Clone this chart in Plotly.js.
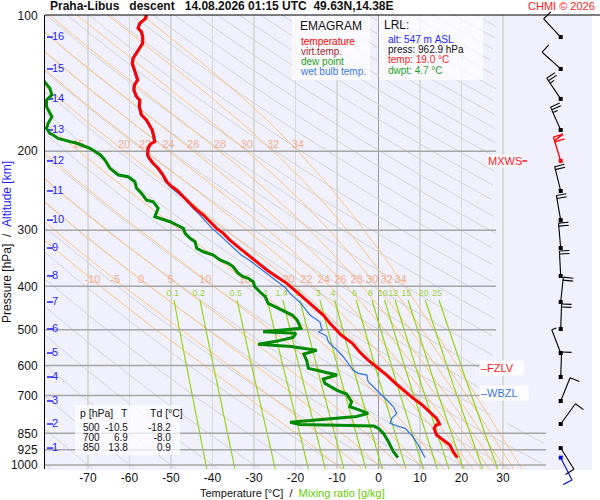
<!DOCTYPE html>
<html>
<head>
<meta charset="utf-8">
<script src="https://cdn.plot.ly/plotly-3.0.1.min.js"></script>
<style>
html,body{margin:0;padding:0;background:#ffffff;}
#chart{width:600px;height:500px;}
</style>
</head>
<body>
<div id="chart"></div>
<script>
// ================= sounding data =================
const tempP = [99.5,101.2,103.8,106.5,108.4,111.2,115.0,117.0,121.1,124.2,127.5,130.8,135.3,138.8,142.5,146.2,151.3,153.9,159.2,166.2,170.5,174.9,179.4,185.7,190.5,192.8,197.1,204.0,207.5,212.8,218.4,226.0,233.9,240.0,244.1,252.6,259.2,268.1,277.5,287.2,297.1,304.9,315.5,329.2,340.7,352.6,367.9,380.8,393.9,414.6,440.3,463.5,483.6,513.5,535.8,559.5,583.8,604.2,630.5,657.9,686.9,710.5,735.4,770.1,787.3,810.6,814.8,828.7,857.7,879.9,902.8,934.5,962.9];
const tempT = [-55.9,-56.1,-57.5,-57.9,-57.1,-56.8,-56.8,-57.3,-58.4,-59.1,-59.3,-58.9,-58.4,-58.0,-58.8,-58.9,-58.3,-57.5,-57.6,-57.1,-55.9,-55.1,-54.5,-54.1,-53.9,-54.9,-55.5,-55.6,-55.2,-54.3,-53.1,-51.9,-51.0,-49.8,-48.6,-47.0,-45.8,-44.2,-42.2,-40.6,-39.0,-37.4,-35.8,-33.4,-31.4,-29.3,-26.9,-24.5,-22.1,-19.3,-16.1,-13.3,-11.7,-9.0,-6.3,-4.6,-2.5,-0.4,2.0,4.1,6.4,8.4,10.6,12.8,14.0,14.7,13.9,13.4,14.0,15.6,17.2,18.0,19.0];

const dewP = [137.4,140.1,144.9,149.9,153.9,159.2,167.6,173.4,177.9,182.5,184.1,187.3,190.5,192.1,197.1,204.0,209.3,218.4,226.0,228.0,233.9,242.0,248.3,257.0,259.2,268.1,279.9,282.2,287.2,292.1,297.1,304.9,312.7,318.3,329.2,335.0,340.7,349.5,355.5,361.8,374.2,380.8,384.0,390.7,400.9,411.3,421.9,436.5,447.8,455.7,463.5,475.5,496.2,504.9,509.1,520.1,530.4,538.3,544.8,555.4,566.1,585.2,609.2,617.7,630.5,643.5,657.9,680.9,695.0,722.9,741.8,754.5,767.4,780.0,803.5,812.7,819.0,828.7,850.3,887.8,934.5,962.9];
const dewT = [-82.0,-80.5,-79.2,-78.7,-80.0,-80.0,-78.7,-79.6,-80.0,-79.2,-78.4,-77.2,-74.3,-72.7,-69.5,-67.0,-65.9,-64.7,-62.7,-60.3,-58.7,-58.3,-57.1,-55.9,-54.3,-53.1,-53.9,-52.7,-50.2,-48.6,-47.0,-46.6,-45.4,-44.2,-43.8,-42.2,-39.8,-38.2,-36.2,-35.0,-33.8,-32.6,-31.4,-30.2,-29.8,-28.6,-27.3,-26.6,-24.1,-22.1,-20.8,-19.6,-18.7,-27.8,-19.9,-20.6,-24.7,-29.0,-21.1,-14.9,-18.0,-17.3,-16.9,-14.1,-10.0,-13.3,-12.9,-10.1,-7.7,-6.5,-6.9,-4.5,-2.5,-5.3,-21.3,-18.9,-1.1,0.0,1.2,2.4,3.6,4.7];

const wbP = [99.5,101.2,103.8,106.5,108.4,111.2,115.0,117.0,121.1,124.2,127.5,130.8,135.3,138.8,142.5,146.2,151.3,153.9,159.2,166.2,170.5,174.9,179.4,185.7,190.5,192.8,197.1,204.0,207.5,212.8,218.4,226.0,233.9,240.0,252.6,268.1,277.5,287.2,297.1,304.9,315.5,329.2,340.7,349.5,364.8,384.0,402.5,414.6,436.5,463.5,480.4,500.5,504.9,516.2,531.5,545.3,553.2,574.0,614.5,625.0,630.5,652.5,675.0,692.6,716.7,741.8,767.4,787.3,807.8,817.7,828.7,857.7,902.8,962.9];
const wbT = [-56.2,-56.4,-57.8,-58.2,-57.4,-57.1,-57.1,-57.6,-58.7,-59.4,-59.6,-59.2,-58.7,-58.3,-59.1,-59.2,-58.6,-57.8,-57.9,-57.4,-56.2,-55.4,-54.8,-54.4,-54.2,-55.2,-55.8,-55.9,-55.5,-54.6,-53.4,-52.2,-51.4,-50.2,-47.3,-44.7,-43.0,-41.6,-40.1,-38.7,-37.0,-34.8,-33.1,-31.2,-28.6,-25.3,-22.5,-21.3,-18.7,-16.5,-14.1,-13.6,-14.5,-12.5,-12.1,-10.9,-10.1,-8.5,-6.1,-4.9,-2.8,-2.5,-0.8,0.4,2.0,3.6,4.4,3.2,2.8,4.4,6.4,8.0,9.6,11.2];

// altitude marks [km] and the pressure where each one sits
const altKm = [1,2,3,4,5,6,7,8,9,10,11,12,13,14,15,16];
const altP = [916.9,810.4,720.2,636.8,563.2,497.8,433.5,379.3,328.7,284.8,245.3,210.3,179.4,153.0,131.2,111.4];

// winds at the altitude marks (direction deg, speed kt)
const windDir = [148,36,22,2,339,2,6,357,355,350,346,343,336,326,312,317];
const windKt = [10,10,10,10,5,20,20,20,20,20,20,60,25,25,10,10];
const sfcP = 962.9, sfcDir = 153, sfcKt = 10;

// special levels [hPa]
const mxwsP = 210.3, fzlvP = 607, wbzlP = 690;

// diagram families
const dryTheta = [-80,-70,-60,-50,-40,-30,-20,-10,0,10,20,30,40,50,60,70,80,90,100,110,120,130,140,150,160,170,180,190,200,210,220,230,240,250,260,270,280,290,300,310];
const moistThetaW = [-10,-5,0,5,10,15,20,22,24,26,28,30,32,34];
const moistLabelsTop = [15,20,22,24,26,28,30,32,34];
const moistLabelsLow = [-10,-5,0,5,10,15,20,22,24,26,28,30,32,34];
const mixRatio = [0.1,0.2,0.5,1,1.4,2,3,4,6,8,10,12,15,20,25];
const mixLabels = ['0.1','0.2','0.5','1','1.4','2','3','4','6','8','10','12','15','20','25'];

// axis ticks
const pTicks = [100,200,300,400,500,600,700,850,925,1000];
const tTicks = [-70,-60,-50,-40,-30,-20,-10,0,10,20,30];

// legend, station & table
const legendNames = ['temperature','virt.temp.','dew point','wet bulb temp.'];
const legendColors = ['#ff0000','#a52828','#1e9e1e','#3a78e0'];
const stAlt = 547, stP = 962.9, stT = 19.0, stTd = 4.7;
const tableP = [500,700,850];
const tableT = [-10.5,6.9,13.8];
const tableTd = [-18.2,-8.0,0.9];

// ================= geometry (pixels) =================
const FONT = 'Liberation Sans, Arial, Helvetica, sans-serif';
const G = {left:45, right:592, top:15, bottom:469, paperTop:8, paperBottom:490,
           x0C:378.5, pxPerC:4.15, y100:16, pxPerDecade:449};
const lg = y => 2 + (y - G.y100) / G.pxPerDecade;
const pAt = y => Math.pow(10, lg(y));
const cAt = x => (x - G.x0C) / G.pxPerC;
const px = x => (x - G.left) / (G.right - G.left);
const py = y => (G.paperBottom - y) / (G.paperBottom - G.paperTop);
const xRange = [cAt(G.left), cAt(G.right)];
const yRange = [lg(G.bottom), lg(G.top)];
const y2Range = [lg(G.paperBottom), lg(G.paperTop)];
const pTop = pAt(G.top), pBot = pAt(G.bottom);
const TMAX_UP = cAt(496), TMAX_LOW = cAt(546), P_SPLIT = 800;
const tMax = p => (p >= P_SPLIT ? TMAX_LOW : TMAX_UP);

function logGrid(p0, p1, n) { const a = []; for (let i = 0; i <= n; i++) a.push(p0 * Math.pow(p1 / p0, i / n)); return a; }
function addClipped(acc, Ts, Ps) {
  let on = false;
  for (let i = 0; i < Ts.length; i++) {
    if (Ts[i] <= tMax(Ps[i])) { acc.x.push(Ts[i]); acc.y.push(Ps[i]); on = true; }
    else if (on) { acc.x.push(null); acc.y.push(null); on = false; }
  }
  acc.x.push(null); acc.y.push(null);
}
function interp(Ps, Ts, p) {
  for (let i = 1; i < Ps.length; i++) {
    const a = Ps[i - 1], b = Ps[i];
    if ((p - a) * (p - b) <= 0) { const f = Math.log(p / a) / Math.log(b / a); return Ts[i - 1] + f * (Ts[i] - Ts[i - 1]); }
  }
  return null;
}

// dry adiabats
const gridP = logGrid(pBot, pTop, 160);
const dry = {x: [], y: []};
dryTheta.forEach(th => {
  addClipped(dry, gridP.map(p => (th + 273.15) * Math.pow(p / 1000, 0.2857) - 273.15), gridP);
});

// pseudo-adiabats
function dTdlnp(T, p) {
  const e = 6.112 * Math.exp(17.67 * (T - 273.15) / (T - 273.15 + 243.5));
  const rs = 0.622 * e / (p - e);
  return (287.04 * T + 2.501e6 * rs) / (1005.7 + 2.501e6 * 2.501e6 * rs * 0.622 / (287.04 * T * T));
}
function rk(T, p0, p1) {
  const h = Math.log(p1 / p0), l0 = Math.log(p0);
  const f = (t, l) => dTdlnp(t, Math.exp(l));
  const k1 = f(T, l0), k2 = f(T + h / 2 * k1, l0 + h / 2), k3 = f(T + h / 2 * k2, l0 + h / 2), k4 = f(T + h * k3, l0 + h);
  return T + h / 6 * (k1 + 2 * k2 + 2 * k3 + k4);
}
const moist = {x: [], y: []};
const moistCurves = {};
moistThetaW.forEach(tw => {
  let T = rk(tw + 273.15, 1000, gridP[0]);
  const Ts = [T - 273.15];
  for (let i = 1; i < gridP.length; i++) { T = rk(T, gridP[i - 1], gridP[i]); Ts.push(T - 273.15); }
  moistCurves[tw] = Ts;
  addClipped(moist, Ts, gridP);
});

// mixing ratio lines
const tdOf = (w, p) => { const e = w * p / (622 + w); const l = Math.log(e / 6.112); return 243.5 * l / (17.67 - l); };
const mixTopP = pAt(300);
const mixGrid = logGrid(pBot, mixTopP, 30);
const mix = {x: [], y: []};
mixRatio.forEach(w => addClipped(mix, mixGrid.map(p => tdOf(w, p)), mixGrid));

// horizontal pressure grid
const hgrid = {x: [], y: []};
pTicks.filter(p => p > 100).forEach(p => { hgrid.x.push(xRange[0], tMax(p), null); hgrid.y.push(p, p, null); });

// labels: top row sits just above the 200 hPa line, lower row near 390 hPa
const pLabTop = pAt(145), pLabTopX = 200, pLabLow = pAt(280), pLabMix = pAt(294);
const mlab = {x: [], y: [], text: []};
moistLabelsTop.forEach(v => { mlab.x.push(interp(gridP, moistCurves[v], pLabTopX)); mlab.y.push(pLabTop); mlab.text.push(String(v)); });
moistLabelsLow.forEach(v => { mlab.x.push(interp(gridP, moistCurves[v], pLabLow)); mlab.y.push(pLabLow); mlab.text.push(String(v)); });
const xlab = {x: mixRatio.map(w => tdOf(w, pLabMix)), y: mixRatio.map(() => pLabMix), text: mixLabels};

// altitude marks
const altDash = {x: [], y: []};
altP.forEach(p => { altDash.x.push(cAt(47), cAt(53), null); altDash.y.push(p, p, null); });

// wind barbs
const BARB = {x: 560.7, staff: 25, full: 10, half: 5, gap: 3, flag: 4};
function barb(acc, baseP, dir, spd) {
  const d = dir * Math.PI / 180;
  const ux = Math.sin(d), uy = -Math.cos(d), nx = Math.cos(d), ny = Math.sin(d);
  const bx = cAt(BARB.x);
  const P = (dx, dy) => { acc.x.push(bx + dx / G.pxPerC); acc.y.push(baseP * Math.pow(10, dy / G.pxPerDecade)); };
  const cut = () => { acc.x.push(null); acc.y.push(null); };
  const L = BARB.staff;
  P(0, 0); P(L * ux, L * uy); cut();
  let rem = Math.round(spd / 5) * 5, s = L;
  while (rem >= 50) {
    P(s * ux, s * uy); P(s * ux + BARB.full * nx, s * uy + BARB.full * ny); P((s - BARB.flag) * ux, (s - BARB.flag) * uy); cut();
    s -= BARB.flag + 1; rem -= 50;
  }
  while (rem >= 10) { P(s * ux, s * uy); P(s * ux + BARB.full * nx, s * uy + BARB.full * ny); cut(); s -= BARB.gap; rem -= 10; }
  if (rem >= 5) { P(s * ux, s * uy); P(s * ux + BARB.half * nx, s * uy + BARB.half * ny); cut(); }
}
const bBlack = {x: [], y: []}, bRed = {x: [], y: []}, bBlue = {x: [], y: []};
const sqBlack = {x: [], y: []}, sqRed = {x: [], y: []};
altP.forEach((p, i) => {
  const isMax = Math.abs(p - mxwsP) < 1;
  barb(isMax ? bRed : bBlack, p, windDir[i], windKt[i]);
  const sq = isMax ? sqRed : sqBlack; sq.x.push(cAt(BARB.x)); sq.y.push(p);
});
barb(bBlue, sfcP, sfcDir, sfcKt);

// ================= traces =================
const line = (acc, color, width, extra) => Object.assign({type: 'scatter', mode: 'lines', x: acc.x, y: acc.y, line: {color: color, width: width}, hoverinfo: 'skip', connectgaps: false}, extra || {});
const traces = [
  line(dry, '#d3d3d3', 1),
  line(moist, '#ffc47e', 1),
  line(mix, '#8fd400', 1.1),
  line(hgrid, '#a6a6a6', 1.5),
  {type: 'scatter', mode: 'text', x: mlab.x, y: mlab.y, text: mlab.text, textfont: {size: 11, color: '#f6ab8c', family: FONT}, hoverinfo: 'skip'},
  {type: 'scatter', mode: 'text', x: xlab.x, y: xlab.y, text: xlab.text, textfont: {size: 9, color: '#9ad43a', family: FONT}, hoverinfo: 'skip'},
  line(altDash, '#1f1fff', 1.5),
  {type: 'scatter', mode: 'text', x: altP.map(() => cAt(52)), y: altP, text: altKm.map(String), textposition: 'middle right', textfont: {size: 11, color: '#1f1fff', family: FONT}, hoverinfo: 'skip'},
  line({x: dewT, y: dewP}, '#008a00', 3),
  line({x: wbT, y: wbP}, '#2f6fe0', 1.2),
  line({x: tempT, y: tempP}, '#ff0000', 3),
  line({x: [cAt(520), cAt(527)], y: [mxwsP, mxwsP]}, '#ff1a1a', 1.5),
  line(bBlack, '#000000', 1.1, {xaxis: 'x2', yaxis: 'y2'}),
  line(bRed, '#ff0000', 1.3, {xaxis: 'x2', yaxis: 'y2'}),
  line(bBlue, '#0000ee', 1.1, {xaxis: 'x2', yaxis: 'y2'}),
  {type: 'scatter', mode: 'markers', x: sqBlack.x, y: sqBlack.y, xaxis: 'x2', yaxis: 'y2', marker: {symbol: 'square', size: 4, color: '#000'}, hoverinfo: 'skip'},
  {type: 'scatter', mode: 'markers', x: sqRed.x, y: sqRed.y, xaxis: 'x2', yaxis: 'y2', marker: {symbol: 'square', size: 4, color: '#ff0000'}, hoverinfo: 'skip'},
  {type: 'scatter', mode: 'markers', x: [cAt(BARB.x)], y: [sfcP], xaxis: 'x2', yaxis: 'y2', marker: {symbol: 'square', size: 4, color: '#0000ee'}, hoverinfo: 'skip'}
];

// ================= annotations =================
const nb = s => s.replace(/ /g, '\u00a0');
const ann = (x, y, text, color, size, anchor) => ({xref: 'paper', yref: 'paper', x: px(x), y: py(y), text: nb(text), showarrow: false,
  xanchor: anchor || 'left', yanchor: 'middle', font: {family: FONT, size: size || 11, color: color || '#111'}});
// a block of lines STEP px apart (one text element), each line with its own colour
const block = (x, yMid, lines, colors, size, step, anchor) => ({xref: 'paper', yref: 'paper', x: px(x), y: py(yMid), showarrow: false,
  xanchor: anchor || 'left', yanchor: 'middle', align: anchor || 'left',
  text: lines.map((s, i) => '<span style="font-size:' + size + 'px;color:' + (colors ? colors[i] : '#111') + '">' + nb(s) + '</span>').join('<br>'),
  font: {family: FONT, size: step / 1.3, color: '#111'}});
const annotations = [
  ann(597, 6, 'CHMI © 2026', '#ff1a1a', 11, 'right'),
  ann(298, 26, 'EMAGRAM', '#111', 12),
  block(298, 57, legendNames, legendColors, 10, 10),
  ann(382, 25.5, 'LRL:', '#111', 12),
  block(386, 55, ['alt: ' + stAlt + ' m ASL', 'press: ' + stP.toFixed(1) + ' hPa', 'temp: ' + stT.toFixed(1) + ' °C', 'dwpt: ' + stTd.toFixed(1) + ' °C'],
        ['#1f1fff', '#111', '#ff1a1a', '#1e9e1e'], 10, 10.2),
  ann(78, 413, 'p [hPa]', '#111', 10.5),
  ann(130, 413, 'T', '#111', 10.5, 'right'),
  ann(148, 413, 'Td [°C]', '#111', 10.5),
  block(102, 437.5, tableP.map(String), null, 10, 10, 'right'),
  block(130, 437.5, tableT.map(v => v.toFixed(1)), null, 10, 10, 'right'),
  block(173, 437.5, tableTd.map(v => v.toFixed(1)), null, 10, 10, 'right'),
  {xref: 'x', yref: 'y', x: cAt(487), y: Math.log10(mxwsP), text: 'MXWS', showarrow: false, xanchor: 'left', yanchor: 'middle',
   bgcolor: 'rgba(255,255,255,0.8)', borderpad: 0, font: {family: FONT, size: 11, color: '#ff1a1a'}},
  {xref: 'x', yref: 'y', x: cAt(479), y: Math.log10(fzlvP), text: nb('–FZLV   '), showarrow: false, xanchor: 'left', yanchor: 'middle',
   bgcolor: 'rgba(255,255,255,0.85)', borderpad: 1, font: {family: FONT, size: 11, color: '#ff1a1a'}},
  {xref: 'x', yref: 'y', x: cAt(479), y: Math.log10(wbzlP), text: nb('–WBZL   '), showarrow: false, xanchor: 'left', yanchor: 'middle',
   bgcolor: 'rgba(255,255,255,0.85)', borderpad: 1, font: {family: FONT, size: 11, color: '#3a78e0'}},
  {xref: 'paper', yref: 'paper', x: px(292), y: py(493), showarrow: false, xanchor: 'center', yanchor: 'middle',
   text: nb('Temperature [°C]  /  ') + '<span style="color:#66cc00">' + nb('Mixing ratio [g/kg]') + '</span>',
   font: {family: FONT, size: 11, color: '#111'}}
];

const box = (x0, y0, x1, y1) => ({type: 'rect', xref: 'paper', yref: 'paper', x0: px(x0), x1: px(x1), y0: py(y1), y1: py(y0),
  fillcolor: 'rgba(255,255,255,0.72)', line: {width: 0}, layer: 'above'});
const shapes = [
  {type: 'rect', xref: 'paper', yref: 'paper', x0: 0, x1: 1, y0: py(470), y1: py(G.top), fillcolor: '#f1f1fd', line: {width: 0}, layer: 'below'},
  box(292, 16, 370, 80),
  box(379, 16, 483, 80),
  box(75, 405, 180, 455),
  {type: 'line', xref: 'paper', yref: 'paper', x0: 0, x1: px(600), y0: py(G.top), y1: py(G.top), line: {color: '#000', width: 1}, layer: 'above'}
];

const layout = {
  width: 600, height: 500,
  margin: {l: G.left, r: 600 - G.right, t: G.paperTop, b: 500 - G.paperBottom, pad: 0},
  paper_bgcolor: '#ffffff', plot_bgcolor: 'rgba(0,0,0,0)',
  font: {family: FONT, size: 12, color: '#111'},
  showlegend: false,
  title: {text: nb('Praha-Libus   descent   14.08.2026 01:15 UTC  49.63N,14.38E'), xref: 'container', yref: 'container',
          x: 50 / 600, xanchor: 'left', y: 1 - 6 / 500, yanchor: 'middle', font: {family: FONT, size: 12, weight: 700, color: '#111'}},
  xaxis: {domain: [0, 1], range: xRange, anchor: 'y', tickvals: tTicks, ticktext: tTicks.map(String), ticks: '',
          showgrid: true, gridcolor: '#d9d9d9', gridwidth: 1.5, zeroline: true, zerolinecolor: '#9a9a9a', zerolinewidth: 1.5,
          showline: false, tickfont: {size: 12, color: '#111'}, fixedrange: true},
  yaxis: {domain: [py(G.bottom), py(G.top)], type: 'log', range: yRange, anchor: 'x', tickvals: pTicks, ticktext: pTicks.map(String),
          ticks: '', showgrid: false, zeroline: false, showline: true, linecolor: '#000', linewidth: 1, ticklabelstandoff: 4,
          tickfont: {size: 12, color: '#111'}, fixedrange: true,
          title: {text: nb('Pressure [hPa]  /  ') + '<span style="color:#1f1fff">' + nb('Altitude [km]') + '</span>',
                  font: {family: FONT, size: 12, color: '#111'}, standoff: 4}},
  xaxis2: {domain: [0, 1], range: xRange, anchor: 'y2', visible: false, fixedrange: true},
  yaxis2: {domain: [0, 1], type: 'log', range: y2Range, anchor: 'x2', visible: false, fixedrange: true},
  shapes: shapes,
  annotations: annotations
};

Plotly.newPlot('chart', traces, layout, {staticPlot: true, displayModeBar: false});
</script>
</body>
</html>
